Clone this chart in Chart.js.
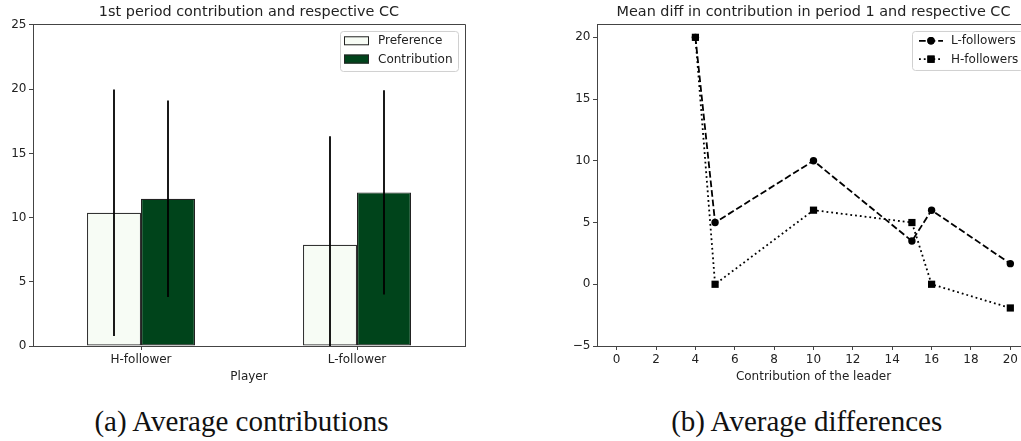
<!DOCTYPE html>
<html>
<head>
<meta charset="utf-8">
<script src="https://cdn.jsdelivr.net/npm/chart.js@4.4.1/dist/chart.umd.min.js"></script>
<style>
  html, body { margin: 0; padding: 0; background: #fff; overflow: hidden; }
  body { width: 1021px; height: 441px; position: relative; }
  .wrap { position: absolute; top: 0; }
  #wrapA { left: 0; }
  #wrapB { left: 557px; }
  .caption {
    position: absolute; top: 406.5px; white-space: nowrap;
    font-family: "Liberation Serif", "DejaVu Serif", serif;
    font-size: 29px; line-height: 29px; color: #111;
    transform: translateX(-50%);
  }
</style>
</head>
<body>
<div class="wrap" id="wrapA"><canvas id="contrib-chart" width="480" height="390"></canvas></div>
<div class="wrap" id="wrapB"><canvas id="diff-chart" width="480" height="390"></canvas></div>
<div class="caption" style="left: 241.5px;">(a) Average contributions</div>
<div class="caption" style="left: 806.7px;">(b) Average differences</div>

<script>
// (a) average contributions
const players = ['H-follower', 'L-follower'];
const preference = [10.37, 7.89];
const preferenceErr = [9.6, 8.45];
const contribution = [11.47, 11.96];
const contributionErr = [7.65, 7.95];

// (b) average differences
const leaderContribution = [4, 5, 10, 15, 16, 20];
const lFollowers = [20, 5, 10, 3.5, 6, 1.67];
const hFollowers = [20, 0, 6, 5, 0, -1.92];
const diffXTicks = [0, 2, 4, 6, 8, 10, 12, 14, 16, 18, 20];
const diffYTicks = [-5, 0, 5, 10, 15, 20];

Chart.defaults.font.family = '"DejaVu Sans", sans-serif';
Chart.defaults.font.size = 12;
Chart.defaults.color = '#222';
Chart.defaults.animation = false;

function alignPx(p) {
  return Math.round(p - 0.5) + 0.5;
}

// top and right spines like matplotlib
const frame = {
  id: 'frame',
  afterDraw(chart) {
    const { ctx, chartArea: a } = chart;
    ctx.save();
    ctx.strokeStyle = '#444';
    ctx.lineWidth = 1;
    ctx.beginPath();
    ctx.moveTo(alignPx(a.left), alignPx(a.top));
    ctx.lineTo(alignPx(a.right), alignPx(a.top));
    ctx.lineTo(alignPx(a.right), alignPx(a.bottom));
    ctx.stroke();
    ctx.restore();
  }
};

const errorBars = {
  id: 'errorBars',
  afterDatasetsDraw(chart) {
    const { ctx, chartArea: a, scales: { y } } = chart;
    ctx.save();
    ctx.beginPath();
    ctx.rect(a.left, a.top, a.right - a.left, a.bottom - a.top);
    ctx.clip();
    ctx.strokeStyle = '#000';
    ctx.lineWidth = 1.8;
    chart.data.datasets.forEach((ds, i) => {
      chart.getDatasetMeta(i).data.forEach((bar, j) => {
        const v = ds.data[j], e = ds.errors[j];
        ctx.beginPath();
        ctx.moveTo(bar.x, y.getPixelForValue(v + e));
        ctx.lineTo(bar.x, y.getPixelForValue(v - e));
        ctx.stroke();
      });
    });
    ctx.restore();
  }
};

function legendBox(ctx, x, y, w, h) {
  ctx.beginPath();
  ctx.roundRect(x + 0.5, y + 0.5, w, h, 3);
  ctx.fillStyle = 'rgba(255,255,255,0.8)';
  ctx.fill();
  ctx.strokeStyle = '#d0d0d0';
  ctx.lineWidth = 1;
  ctx.stroke();
}

const barLegend = {
  id: 'barLegend',
  afterDraw(chart) {
    const { ctx, chartArea: a } = chart;
    const w = 118, h = 40;
    const x0 = a.right - 7 - w, y0 = a.top + 6;
    ctx.save();
    legendBox(ctx, x0, y0, w, h);
    ctx.font = '12px "DejaVu Sans"';
    ctx.textBaseline = 'middle';
    chart.data.datasets.forEach((ds, i) => {
      const cy = y0 + 9.8 + i * 18.3;
      ctx.fillStyle = ds.backgroundColor;
      ctx.fillRect(x0 + 4, cy - 4.5, 25, 9);
      ctx.strokeStyle = '#222';
      ctx.lineWidth = 1;
      ctx.strokeRect(x0 + 4.5, cy - 4, 24, 8);
      ctx.fillStyle = '#222';
      ctx.fillText(ds.label, x0 + 38, cy + 0.5);
    });
    ctx.restore();
  }
};

const lineLegend = {
  id: 'lineLegend',
  afterDraw(chart) {
    const { ctx, chartArea: a } = chart;
    const w = 111, h = 39;
    const x0 = a.right - 7 - w, y0 = a.top + 6;
    ctx.save();
    legendBox(ctx, x0, y0, w, h);
    ctx.font = '12px "DejaVu Sans"';
    ctx.textBaseline = 'middle';
    chart.data.datasets.forEach((ds, i) => {
      const cy = y0 + 9.8 + i * 18.4;
      ctx.strokeStyle = '#000';
      ctx.lineWidth = ds.borderWidth;
      ctx.setLineDash(ds.borderDash);
      ctx.beginPath();
      ctx.moveTo(x0 + 7, cy);
      ctx.lineTo(x0 + 31, cy);
      ctx.stroke();
      ctx.setLineDash([]);
      ctx.fillStyle = '#000';
      Chart.helpers.drawPoint(ctx, { pointStyle: ds.pointStyle, radius: ds.pointRadius, borderWidth: 0 }, x0 + 19, cy);
      ctx.fill();
      ctx.fillStyle = '#222';
      ctx.fillText(ds.label, x0 + 39, cy + 0.5);
    });
    ctx.restore();
  }
};

const axisCommon = {
  border: { color: '#444', width: 1 },
  grid: { drawOnChartArea: false, drawTicks: true, tickLength: 4, tickWidth: 1, color: '#444', offset: false },
  ticks: { padding: 2.5, color: '#222', maxRotation: 0, autoSkip: false }
};

new Chart(document.getElementById('contrib-chart'), {
  type: 'bar',
  data: {
    labels: players,
    datasets: [
      {
        label: 'Preference',
        data: preference,
        errors: preferenceErr,
        backgroundColor: '#f7fcf5',
        borderColor: '#333',
        borderWidth: 1.2,
        borderSkipped: false,
        barPercentage: 1,
        categoryPercentage: 0.5
      },
      {
        label: 'Contribution',
        data: contribution,
        errors: contributionErr,
        backgroundColor: '#00441b',
        borderColor: '#222',
        borderWidth: 1.2,
        borderSkipped: false,
        barPercentage: 1,
        categoryPercentage: 0.5
      }
    ]
  },
  options: {
    responsive: false,
    layout: { padding: { left: 0, right: 15, top: 0, bottom: 0 } },
    plugins: {
      legend: { display: false },
      tooltip: { enabled: false },
      title: {
        display: true,
        fullSize: false,
        text: '1st period contribution and respective CC',
        color: '#222',
        font: { size: 14.4, weight: 'normal' },
        padding: { top: 4, bottom: 3.7 }
      }
    },
    scales: {
      x: {
        ...axisCommon,
        title: { display: true, text: 'Player', color: '#222', font: { size: 12 }, padding: { top: 2, bottom: 6 } },
        afterFit: (s) => { s.height = 44; }
      },
      y: {
        ...axisCommon,
        min: 0,
        max: 25,
        ticks: { ...axisCommon.ticks, stepSize: 5 },
        afterFit: (s) => { s.width = 33; }
      }
    }
  },
  plugins: [errorBars, frame, barLegend]
});

new Chart(document.getElementById('diff-chart'), {
  type: 'line',
  data: {
    datasets: [
      {
        label: 'L-followers',
        data: leaderContribution.map((x, i) => ({ x: x, y: lFollowers[i] })),
        borderColor: '#000',
        backgroundColor: '#000',
        borderWidth: 1.8,
        borderDash: [6.7, 2.9],
        pointStyle: 'circle',
        pointRadius: 3.7,
        pointBorderWidth: 0,
        pointBackgroundColor: '#000',
        order: 1
      },
      {
        label: 'H-followers',
        data: leaderContribution.map((x, i) => ({ x: x, y: hFollowers[i] })),
        borderColor: '#000',
        backgroundColor: '#000',
        borderWidth: 1.8,
        borderDash: [1.8, 3],
        pointStyle: 'rect',
        pointRadius: 5.1,
        pointBorderWidth: 0,
        pointBackgroundColor: '#000',
        order: 0
      }
    ]
  },
  options: {
    responsive: false,
    layout: { padding: { left: 0, right: 7, top: 0, bottom: 0 } },
    plugins: {
      legend: { display: false },
      tooltip: { enabled: false },
      title: {
        display: true,
        fullSize: false,
        text: 'Mean diff in contribution in period 1 and respective CC',
        color: '#222',
        font: { size: 14.4, weight: 'normal' },
        padding: { top: 4, bottom: 3.7 }
      }
    },
    scales: {
      x: {
        ...axisCommon,
        type: 'linear',
        min: -1,
        max: 21,
        afterBuildTicks: (s) => { s.ticks = diffXTicks.map(v => ({ value: v })); },
        title: { display: true, text: 'Contribution of the leader', color: '#222', font: { size: 12 }, padding: { top: 2, bottom: 6 } },
        afterFit: (s) => { s.height = 44; }
      },
      y: {
        ...axisCommon,
        min: -5,
        max: 21,
        afterBuildTicks: (s) => { s.ticks = diffYTicks.map(v => ({ value: v })); },
        ticks: { ...axisCommon.ticks, callback: (v) => String(v).replace('-', '\u2212') },
        afterFit: (s) => { s.width = 40; }
      }
    }
  },
  plugins: [frame, lineLegend]
});
</script>
</body>
</html>
